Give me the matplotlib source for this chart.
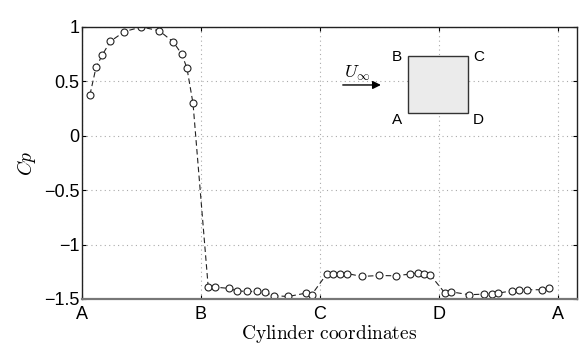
import matplotlib
matplotlib.use("Agg")
import matplotlib.pyplot as plt
from matplotlib.patches import Rectangle

plt.rcParams['mathtext.fontset'] = 'cm'
plt.rcParams['font.family'] = ['Liberation Sans', 'DejaVu Sans']

# surface pressure coefficient around the square cylinder
x_pos = [0.067, 0.118, 0.171, 0.238, 0.356, 0.500, 0.650, 0.768, 0.838, 0.882, 0.933,
         1.061, 1.118, 1.238, 1.300, 1.384, 1.468, 1.538, 1.613, 1.734, 1.882, 1.930,
         2.056, 2.112, 2.168, 2.229, 2.350, 2.498, 2.635, 2.756, 2.826, 2.874, 2.924,
         3.050, 3.101, 3.255, 3.382, 3.443, 3.499, 3.611, 3.675, 3.737, 3.863, 3.927]
cp = [0.377, 0.628, 0.744, 0.867, 0.958, 1.000, 0.965, 0.861, 0.751, 0.622, 0.297,
      -1.394, -1.391, -1.403, -1.425, -1.431, -1.431, -1.440, -1.470, -1.477, -1.446, -1.461,
      -1.271, -1.268, -1.268, -1.266, -1.293, -1.284, -1.287, -1.271, -1.259, -1.271, -1.275,
      -1.446, -1.434, -1.461, -1.455, -1.452, -1.446, -1.425, -1.415, -1.415, -1.415, -1.400]

xticks = [0, 1, 2, 3, 4]
xticklabels = ['A', 'B', 'C', 'D', 'A']
yticks = [-1.5, -1, -0.5, 0, 0.5, 1]
yticklabels = ['\u22121.5', '\u22121', '\u22120.5', '0', '0.5', '1']

fig = plt.figure(figsize=(5.81, 3.49), dpi=100)
ax = fig.add_axes([0.1411, 0.1433, 0.8515, 0.7794])

ax.plot(x_pos, cp, linestyle=(0, (5, 3)), color='#222222', linewidth=0.8,
        marker='o', markersize=5, markerfacecolor='white',
        markeredgecolor='#222222', markeredgewidth=0.8)

ax.set_xlim(0, 4.157)
ax.set_ylim(-1.5, 1)
ax.set_xticks(xticks)
ax.set_xticklabels(xticklabels)
ax.set_yticks(yticks)
ax.set_yticklabels(yticklabels)
ax.tick_params(direction='in', length=3, labelsize=13, top=True, right=True)
ax.tick_params(axis='x', pad=5)
ax.tick_params(axis='y', pad=2)
ax.grid(True, linestyle=(0, (1, 3)), color='#aaaaaa', linewidth=0.8)
for s in ['top', 'right', 'left']:
    ax.spines[s].set_color('#222222')
    ax.spines[s].set_linewidth(1.0)
ax.spines['bottom'].set_color('#777777')
ax.spines['bottom'].set_linewidth(1.6)

ax.set_xlabel(r'$\mathrm{Cylinder\ coordinates}$', fontsize=14, labelpad=0)
ax.set_ylabel(r'$Cp$', fontsize=14, labelpad=4)

# sketch of the cylinder
ax.add_patch(Rectangle((2.742, 0.209), 0.499, 0.520, facecolor='#ebebeb',
                       edgecolor='#333333', linewidth=1.0, zorder=3))
ax.text(2.645, 0.727, 'B', fontsize=11, ha='center', va='center')
ax.text(3.336, 0.724, 'C', fontsize=11, ha='center', va='center')
ax.text(2.645, 0.145, 'A', fontsize=11, ha='center', va='center')
ax.text(3.328, 0.145, 'D', fontsize=11, ha='center', va='center')
ax.annotate('', xy=(2.535, 0.467), xytext=(2.168, 0.467),
            arrowprops=dict(arrowstyle='-|>', color='black', lw=1.0,
                            mutation_scale=12))
ax.text(2.31, 0.57, r'$U_\infty$', fontsize=13, ha='center', va='center')

fig.savefig('out.png', dpi=100)
